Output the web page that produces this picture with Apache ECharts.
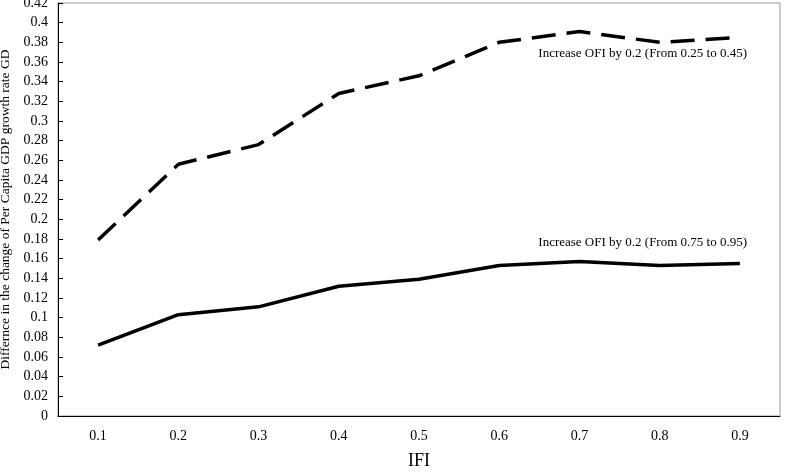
<!DOCTYPE html>
<html>
<head>
<meta charset="utf-8">
<script src="https://cdn.jsdelivr.net/npm/echarts@6/dist/echarts.min.js"></script>
<style>
  html, body { margin: 0; padding: 0; background: #fff; }
  #chart { width: 788px; height: 474px; }
</style>
</head>
<body>
<div id="chart"></div>
<script>
// x categories (IFI)
const ifi = ["0.1", "0.2", "0.3", "0.4", "0.5", "0.6", "0.7", "0.8", "0.9"];
// OFI 0.25 -> 0.45 (dashed)
const lowOfi = [0.179, 0.256, 0.276, 0.328, 0.346, 0.380, 0.391, 0.380, 0.385];
// OFI 0.75 -> 0.95 (solid)
const highOfi = [0.072, 0.103, 0.111, 0.132, 0.139, 0.153, 0.157, 0.153, 0.155];
const labelLow = "Increase OFI by 0.2 (From 0.25 to 0.45)";
const labelHigh = "Increase OFI by 0.2 (From 0.75 to 0.95)";

const font = "Liberation Serif";
let myChart = echarts.init(document.getElementById("chart"));

let option = {
	animation: false,
	grid: {
		left: 58,
		right: 8,
		top: 3,
		bottom: 58,
		outerBoundsMode: "none",
		containLabel: false,
		show: true,
		borderColor: "#999",
		borderWidth: 1
	},
	xAxis: {
		type: "category",
		data: ifi,
		boundaryGap: true,
		name: "IFI",
		nameLocation: "middle",
		nameGap: 36,
		nameTextStyle: { fontFamily: font, fontSize: 18, color: "#000" },
		axisLine: { lineStyle: { color: "#000", width: 1 } },
		axisTick: { inside: true, length: 5, lineStyle: { color: "#000" } },
		axisLabel: { fontFamily: font, fontSize: 14, color: "#000", margin: 13 },
		splitLine: { show: false }
	},
	yAxis: {
		type: "value",
		min: 0,
		max: 0.42,
		interval: 0.02,
		name: "Differnce in the change of Per Capita GDP growth rate GD",
		nameLocation: "middle",
		nameGap: 43,
		nameTextStyle: { fontFamily: font, fontSize: 13.5, color: "#000" },
		axisLine: { show: true, lineStyle: { color: "#000", width: 1 } },
		axisTick: { show: true, inside: true, length: 5, lineStyle: { color: "#000" } },
		axisLabel: {
			fontFamily: font,
			fontSize: 14,
			color: "#000",
			margin: 10,
			formatter: v => String(+v.toFixed(2))
		},
		splitLine: { show: false }
	},
	series: [
		{
			type: "line",
			data: lowOfi,
			symbol: "none",
			lineStyle: { color: "#000", width: 3.5, type: [24, 11] }
		},
		{
			type: "line",
			data: highOfi,
			symbol: "none",
			lineStyle: { color: "#000", width: 3.5 }
		}
	],
	graphic: [
		{
			type: "text",
			right: 41,
			top: 47,
			style: { text: labelLow, font: "13px " + font, fill: "#000" }
		},
		{
			type: "text",
			right: 41,
			top: 236,
			style: { text: labelHigh, font: "13px " + font, fill: "#000" }
		}
	]
};
myChart.setOption(option);
</script>
</body>
</html>
